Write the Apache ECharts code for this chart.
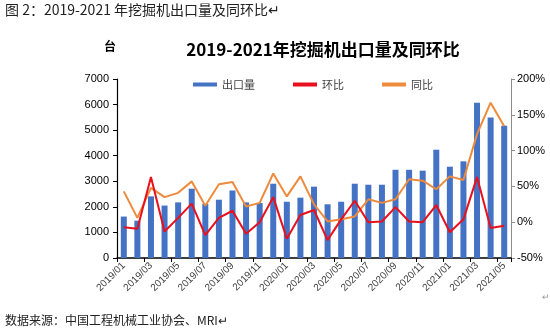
<!DOCTYPE html>
<html>
<head>
<meta charset="utf-8">
<script src="https://cdn.jsdelivr.net/npm/echarts@6/dist/echarts.min.js"></script>
<style>
  html, body { margin: 0; padding: 0; background: #fff; }
  #chart { width: 550px; height: 335px; }
</style>
</head>
<body>
<div id="chart"></div>
<script>
// Monthly excavator exports (units) with month-on-month and year-on-year change (%)
const months = [
  '2019/01','2019/02','2019/03','2019/04','2019/05','2019/06','2019/07','2019/08','2019/09','2019/10','2019/11','2019/12',
  '2020/01','2020/02','2020/03','2020/04','2020/05','2020/06','2020/07','2020/08','2020/09','2020/10','2020/11','2020/12',
  '2021/01','2021/02','2021/03','2021/04','2021/05'
];
const exportsUnits = [
  1620, 1460, 2410, 2050, 2175, 2710, 2120, 2280, 2640, 2175, 2150, 2905,
  2200, 2360, 2790, 2100, 2200, 2905, 2865, 2865, 3450, 3450, 3415, 4235,
  3570, 3780, 6075, 5490, 5175
];
const momPct = [
  -7, -9, 63, -13, 6, 26, -18, 6, 16, -16, 0, 35,
  -23, 10, 17, -25, 4, 30, 0, 1, 21, 1, 0, 24,
  -14, 4, 63, -8, -5
];
const yoyPct = [
  43, 6, 48, 35, 41, 57, 23, 53, 56, 22, 27, 68,
  36, 64, 25, 1, 4, 8, 32, 27, 32, 60, 58, 46,
  64, 59, 123, 167, 134
];
const leftTicks = { min: 0, max: 7000, step: 1000 };
const rightTicks = { min: -50, max: 200, step: 50 };

const chart = echarts.init(document.getElementById('chart'), null, { renderer: 'canvas' });
const axisFont = 'Liberation Sans, Arial, sans-serif';
const cjkFont = '"Noto Sans CJK SC", sans-serif';

chart.setOption({
  backgroundColor: '#ffffff',
  animation: false,
  title: {
    text: '2019-2021年挖掘机出口量及同环比',
    left: 318,
    textAlign: 'center',
    top: 36,
    textStyle: { fontFamily: cjkFont, fontSize: 17, fontWeight: 'bold', color: '#000' }
  },
  legend: {
    left: 188,
    top: 74,
    itemWidth: 24,
    itemHeight: 4,
    itemGap: 38,
    textStyle: { fontFamily: cjkFont, fontSize: 11, color: '#404040' },
    data: [
      { name: '出口量', icon: 'rect' },
      { name: '环比', icon: 'rect', itemStyle: { color: '#e8101c' } },
      { name: '同比', icon: 'rect', itemStyle: { color: '#ee8a3c' } }
    ]
  },
  grid: { left: 117, right: 39, top: 79, bottom: 77, containLabel: false },
  xAxis: {
    type: 'category',
    data: months,
    boundaryGap: true,
    axisLine: { lineStyle: { color: '#000', width: 1.5 } },
    axisTick: { show: true, interval: 1, length: 4, lineStyle: { color: '#000' } },
    axisLabel: {
      interval: 1,
      rotate: 45,
      margin: 6,
      fontFamily: axisFont,
      fontSize: 10,
      color: '#404040'
    }
  },
  yAxis: [
    {
      type: 'value',
      min: leftTicks.min,
      max: leftTicks.max,
      interval: leftTicks.step,
      splitLine: { show: false },
      axisLine: { show: true, lineStyle: { color: '#000', width: 1.2 } },
      axisTick: { show: true, length: 4, lineStyle: { color: '#000' } },
      axisLabel: { fontFamily: axisFont, fontSize: 11, color: '#000', margin: 8, formatter: v => String(v) }
    },
    {
      type: 'value',
      min: rightTicks.min,
      max: rightTicks.max,
      interval: rightTicks.step,
      splitLine: { show: false },
      axisLine: { show: true, lineStyle: { color: '#8c8c8c', width: 1 } },
      axisTick: { show: true, length: 4, lineStyle: { color: '#8c8c8c' } },
      axisLabel: { fontFamily: axisFont, fontSize: 11, color: '#000', margin: 6, formatter: v => v + '%' }
    }
  ],
  series: [
    {
      name: '出口量',
      type: 'bar',
      data: exportsUnits,
      barWidth: 6,
      itemStyle: { color: '#4472c4' },
      z: 1
    },
    {
      name: '环比',
      type: 'line',
      yAxisIndex: 1,
      data: momPct,
      symbol: 'none',
      lineStyle: { color: '#e8101c', width: 2 },
      itemStyle: { color: '#e8101c' },
      z: 3
    },
    {
      name: '同比',
      type: 'line',
      yAxisIndex: 1,
      data: yoyPct,
      symbol: 'none',
      lineStyle: { color: '#ee8a3c', width: 2 },
      itemStyle: { color: '#ee8a3c' },
      z: 2
    }
  ],
  graphic: [
    {
      type: 'text', left: 5, top: 3,
      style: { text: '图 2：2019-2021 年挖掘机出口量及同环比↵', fontFamily: cjkFont, fontSize: 14, fill: '#222' }
    },
    {
      type: 'text', left: 104, top: 40,
      style: { text: '台', fontFamily: cjkFont, fontSize: 12, fontWeight: 'bold', fill: '#000' }
    },
    {
      type: 'text', left: 5, top: 314,
      style: { text: '数据来源：中国工程机械工业协会、MRI↵', fontFamily: cjkFont, fontSize: 12, fill: '#222' }
    },
    {
      type: 'text', left: 542, top: 292,
      style: { text: '↵', fontFamily: cjkFont, fontSize: 9, fill: '#999' }
    }
  ]
});
</script>
</body>
</html>
